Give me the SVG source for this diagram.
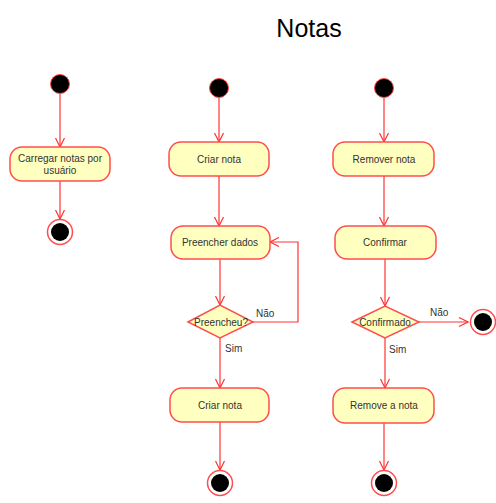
<svg xmlns="http://www.w3.org/2000/svg" width="496" height="503" viewBox="0 0 496 503">
<defs>
<style>
.act{fill:#ffffc0;stroke:#ff4d4d;stroke-width:1.5}
.start{fill:#000;stroke:#ff4d4d;stroke-width:1}
.endo{fill:#fff;stroke:#ff4d4d;stroke-width:1.5}
.endi{fill:#000}
.t{font-family:"Liberation Sans",Arial,sans-serif;font-size:10px;fill:#333;text-anchor:middle}
.l{font-family:"Liberation Sans",Arial,sans-serif;font-size:10px;fill:#333}
.c{fill:none;stroke:#ff3333;stroke-width:1.2}
</style>
<marker id="ar" viewBox="0 0 12 12" refX="11" refY="6" markerWidth="12" markerHeight="12" markerUnits="userSpaceOnUse" orient="auto">
<path d="M2,1.5 L11,6 L2,10.5" fill="none" stroke="#ff3333" stroke-width="1.2"/>
</marker>
</defs>
<rect width="496" height="503" fill="#fff"/>
<text x="309" y="37" font-family="'Liberation Sans',Arial,sans-serif" font-size="25" fill="#000" text-anchor="middle">Notas</text>

<g id="connectors">
<path class="c" d="M60,94 V147" marker-end="url(#ar)"/>
<path class="c" d="M60,181 V219" marker-end="url(#ar)"/>
<path class="c" d="M219,98 V142" marker-end="url(#ar)"/>
<path class="c" d="M219,176 V226" marker-end="url(#ar)"/>
<path class="c" d="M220,259 V305" marker-end="url(#ar)"/>
<path class="c" d="M253,322 H298 V242 H270" marker-end="url(#ar)"/>
<path class="c" d="M220,338 V388" marker-end="url(#ar)"/>
<path class="c" d="M220,422 V470" marker-end="url(#ar)"/>
<path class="c" d="M384,98 V142" marker-end="url(#ar)"/>
<path class="c" d="M384,176 V226" marker-end="url(#ar)"/>
<path class="c" d="M385,259 V306" marker-end="url(#ar)"/>
<path class="c" d="M419,322 H468" marker-end="url(#ar)"/>
<path class="c" d="M385,338 V388" marker-end="url(#ar)"/>
<path class="c" d="M384,423 V470" marker-end="url(#ar)"/>
<text class="l" x="256" y="317">Não</text>
<text class="l" x="225" y="352">Sim</text>
<text class="l" x="430" y="316">Não</text>
<text class="l" x="389" y="353">Sim</text>
</g>

<g id="start1"><circle class="start" cx="60" cy="84" r="9.5"/></g>
<g id="carregar"><rect class="act" x="10" y="147" width="100" height="34" rx="12"/><text class="t" x="60" y="162">Carregar notas por</text><text class="t" x="60" y="174">usuário</text></g>
<g id="end1"><circle class="endo" cx="60" cy="232" r="12.5"/><circle class="endi" cx="60" cy="232" r="9"/></g>

<g id="start2"><circle class="start" cx="219" cy="88" r="9.5"/></g>
<g id="criar1"><rect class="act" x="169" y="142" width="100" height="34" rx="12"/><text class="t" x="219" y="163">Criar nota</text></g>
<g id="preencher"><rect class="act" x="171" y="226" width="99" height="33" rx="12"/><text class="t" x="220" y="246">Preencher dados</text></g>
<g id="preencheu"><polygon class="act" points="188,322 220,305 253,322 220,338"/><text class="t" x="221" y="326">Preencheu?</text></g>
<g id="criar2"><rect class="act" x="170" y="388" width="99" height="34" rx="12"/><text class="t" x="220" y="409">Criar nota</text></g>
<g id="end2"><circle class="endo" cx="220" cy="483" r="12.5"/><circle class="endi" cx="220" cy="483" r="9"/></g>

<g id="start3"><circle class="start" cx="384" cy="88" r="9.5"/></g>
<g id="remover"><rect class="act" x="333" y="142" width="101" height="34" rx="12"/><text class="t" x="384" y="163">Remover nota</text></g>
<g id="confirmar"><rect class="act" x="335" y="226" width="101" height="33" rx="12"/><text class="t" x="385" y="246">Confirmar</text></g>
<g id="confirmado"><polygon class="act" points="352,322 385,306 419,322 385,338"/><text class="t" x="385" y="326">Confirmado</text></g>
<g id="end3"><circle class="endo" cx="483" cy="322" r="12.5"/><circle class="endi" cx="483" cy="322" r="9"/></g>
<g id="removeanota"><rect class="act" x="333" y="388" width="101" height="35" rx="12"/><text class="t" x="384" y="409">Remove a nota</text></g>
<g id="end4"><circle class="endo" cx="384" cy="483" r="12.5"/><circle class="endi" cx="384" cy="483" r="9"/></g>
</svg>
